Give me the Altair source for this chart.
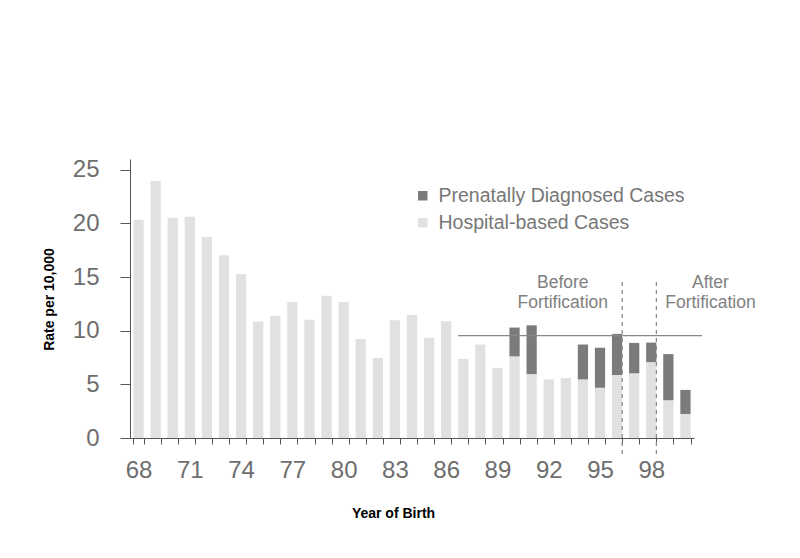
import altair as alt
import pandas as pd

years = list(range(68, 101))
hospital = [20.35, 23.96, 20.53, 20.62, 18.74, 17.04, 15.28, 10.86, 11.40, 12.68,
            11.01, 13.25, 12.68, 9.22, 7.46, 10.98, 11.46, 9.34, 10.89, 7.37,
            8.71, 6.53, 7.61, 5.96, 5.46, 5.58, 5.46, 4.68, 5.87, 6.03,
            7.07, 3.52, 2.24]
prenatal = [0, 0, 0, 0, 0, 0, 0, 0, 0, 0,
            0, 0, 0, 0, 0, 0, 0, 0, 0, 0,
            0, 0, 2.68, 4.54, 0, 0, 3.25, 3.73, 3.83, 2.83,
            1.82, 4.30, 2.24]

series_names = ["Prenatally Diagnosed Cases", "Hospital-based Cases"]
series_colors = ["#7b7b7b", "#e1e1e1"]

ref_level = 9.54
ref_start = 87
divider_years = [96, 98]
divider_top, divider_bottom = 14.54, -1.65
notes = ["Before\nFortification", "After\nFortification"]
note_years = [93, 100]
note_level = 14.02

rows = []
for y, h, p in zip(years, hospital, prenatal):
    rows.append({"year": y, "series": series_names[1], "value": h, "ord": 0})
    rows.append({"year": y, "series": series_names[0], "value": p, "ord": 1})
df = pd.DataFrame(rows)

FONT = "Liberation Sans"
LABEL_COLOR = "#6e6e6e"

x_scale = alt.Scale(domain=years, paddingInner=0.4, paddingOuter=0.2)
y_scale = alt.Scale(domain=[0, 25])

bars = alt.Chart(df).mark_bar().encode(
    x=alt.X("year:O", scale=x_scale, sort=years,
            axis=alt.Axis(
                title="Year of Birth", labelAngle=0, tickBand="extent",
                labelExpr="((datum.value - 68) % 3 == 0 && datum.value <= 98) ? datum.label : ''",
                labelFontSize=24, labelColor=LABEL_COLOR, labelFont=FONT, labelPadding=14,
                tickSize=6, tickColor="#555555", domainColor="#555555",
                titleFont=FONT, titleFontSize=14, titleFontWeight="bold", titleColor="#000000",
                titleX=263, titleY=75, titleAlign="center", titleBaseline="middle")),
    y=alt.Y("value:Q", stack="zero", scale=y_scale,
            axis=alt.Axis(
                title="Rate per 10,000", values=[0, 5, 10, 15, 20, 25], grid=False,
                labelFontSize=24, labelColor=LABEL_COLOR, labelFont=FONT, labelPadding=21,
                tickSize=10, tickColor="#555555", domainColor="#555555",
                titleFont=FONT, titleFontSize=14, titleFontWeight="bold", titleColor="#000000",
                titleAngle=-90, titleX=-81, titleY=140, titleAlign="center",
                titleBaseline="middle")),
    color=alt.Color("series:N",
                    scale=alt.Scale(domain=series_names, range=series_colors),
                    legend=alt.Legend(
                        title=None, orient="none", legendX=283, legendY=27,
                        symbolType="square", symbolSize=90, symbolStrokeWidth=0,
                        labelFontSize=19.5, labelFont=FONT, labelColor="#777777",
                        labelLimit=0, labelOffset=6, rowPadding=6, padding=0)),
    order=alt.Order("ord:Q"),
)

ref_df = pd.DataFrame({"start": [ref_start], "level": [ref_level]})
ref_line = alt.Chart(ref_df).mark_rule(color="#888888", strokeWidth=1.2).encode(
    x=alt.X("start:O", bandPosition=0),
    x2=alt.value({"expr": "width + 8"}),
    y=alt.Y("level:Q"),
)

div_df = pd.DataFrame({"year": divider_years, "top": [divider_top] * 2,
                       "bottom": [divider_bottom] * 2})
dividers = alt.Chart(div_df).mark_rule(color="#8a8a8a", strokeWidth=1.3,
                                       strokeDash=[4, 4]).encode(
    x=alt.X("year:O", bandPosition=1),
    y=alt.Y("top:Q"),
    y2=alt.Y2("bottom:Q"),
)

note_df = pd.DataFrame({"year": note_years, "text": notes, "level": [note_level] * 2})
note_before = alt.Chart(note_df.iloc[[0]]).mark_text(
    font=FONT, fontSize=17.5, color="#808080", lineBreak="\n", lineHeight=20,
    align="center", baseline="alphabetic", dx=-3).encode(
    x=alt.X("year:O"), y=alt.Y("level:Q"), text="text:N")
note_after = alt.Chart(note_df.iloc[[1]]).mark_text(
    font=FONT, fontSize=17.5, color="#808080", lineBreak="\n", lineHeight=20,
    align="center", baseline="alphabetic", dx=25).encode(
    x=alt.X("year:O"), y=alt.Y("level:Q"), text="text:N")

chart = alt.layer(bars, ref_line, dividers, note_before, note_after).properties(
    width=564, height=279,
    autosize=alt.AutoSizeParams(type="none"),
    padding={"left": 122, "top": 151, "right": 98, "bottom": 112},
    background="white",
).configure_view(stroke=None)

chart.save("out.html", embed_options={"renderer": "svg", "actions": False})
